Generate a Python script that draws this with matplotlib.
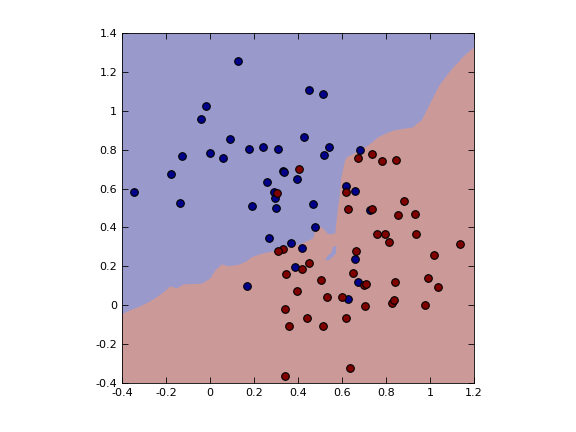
import numpy as np
import matplotlib
matplotlib.use('Agg')
import matplotlib.pyplot as plt
from matplotlib.ticker import FormatStrFormatter

# class 0 (blue) samples
blue_x = [0.125, -0.016, -0.043, 0.093, 0.179, 0.243, 0.311, -0.002, 0.061, -0.129,
          -0.179, 0.334, 0.338, 0.261, 0.397, 0.293, 0.294, -0.347, -0.138, 0.189,
          0.302, 0.452, 0.515, 0.429, 0.543, 0.520, 0.682, 0.620, 0.657, 0.470,
          0.729, 0.475, 0.270, 0.366, 0.416, 0.657, 0.388, 0.674, 0.170, 0.629]
blue_y = [1.256, 1.025, 0.958, 0.856, 0.804, 0.815, 0.804, 0.784, 0.758, 0.768,
          0.676, 0.691, 0.684, 0.635, 0.650, 0.583, 0.553, 0.583, 0.526, 0.511,
          0.501, 1.107, 1.087, 0.866, 0.815, 0.773, 0.799, 0.614, 0.589, 0.522,
          0.491, 0.404, 0.347, 0.321, 0.296, 0.239, 0.198, 0.121, 0.101, 0.034]

# class 1 (red) samples
red_x = [0.303, 0.403, 0.673, 0.738, 0.783, 0.847, 0.620, 0.883, 0.625, 0.738,
         0.856, 0.933, 0.334, 0.311, 0.663, 0.761, 0.797, 0.938, 0.815, 1.138,
         0.452, 0.416, 0.347, 0.652, 0.506, 0.397, 0.534, 0.602, 0.343, 0.443,
         0.620, 0.361, 0.515, 0.638, 0.343, 0.702, 0.711, 0.842, 1.020, 0.992,
         1.038, 0.829, 0.838, 0.706, 0.979]
red_y = [0.578, 0.702, 0.758, 0.779, 0.743, 0.748, 0.583, 0.536, 0.496, 0.496,
         0.465, 0.470, 0.288, 0.279, 0.280, 0.368, 0.368, 0.368, 0.327, 0.315,
         0.219, 0.188, 0.162, 0.167, 0.131, 0.075, 0.044, 0.044, -0.018, -0.064,
         -0.064, -0.105, -0.105, -0.321, -0.362, 0.106, 0.111, 0.121, 0.260, 0.142,
         0.096, 0.013, 0.029, -0.002, 0.003]

# decision boundary (red below, blue above)
bound_x = [-0.4, -0.362, -0.317, -0.272, -0.241, -0.211, -0.181, -0.150, -0.120, -0.037,
           0.001, 0.024, 0.054, 0.084, 0.130, 0.168, 0.190, 0.236, 0.266, 0.319,
           0.364, 0.410, 0.469, 0.482, 0.510, 0.537, 0.569, 0.582, 0.591, 0.596,
           0.614, 0.622, 0.667, 0.720, 0.743, 0.765, 0.796, 0.833, 0.879, 0.924,
           0.940, 0.962, 0.977, 0.992, 1.015, 1.038, 1.053, 1.076, 1.106, 1.129,
           1.151, 1.174, 1.2]
bound_y = [-0.047, -0.026, -0.006, 0.020, 0.042, 0.066, 0.097, 0.087, 0.107, 0.111,
           0.137, 0.179, 0.210, 0.200, 0.208, 0.227, 0.247, 0.265, 0.272, 0.282,
           0.299, 0.313, 0.344, 0.400, 0.400, 0.364, 0.369, 0.503, 0.575, 0.652,
           0.744, 0.761, 0.787, 0.821, 0.843, 0.864, 0.881, 0.898, 0.907, 0.915,
           0.933, 0.950, 0.984, 1.018, 1.069, 1.121, 1.146, 1.181, 1.223, 1.249,
           1.278, 1.300, 1.326]

# small blue island inside the red region
island_x = [0.558, 0.575, 0.572, 0.545, 0.522, 0.535, 0.552]
island_y = [0.300, 0.305, 0.265, 0.235, 0.228, 0.255, 0.270]

blue_bg = '#9999cc'
red_bg = '#cc9999'

fig = plt.figure(figsize=(5.76, 4.32), dpi=100)
ax = fig.add_axes([122/576, 49/432, 352/576, 350/432])
ax.set_facecolor(blue_bg)

ax.fill(bound_x + [1.2, -0.4], bound_y + [-0.4, -0.4], color=red_bg, lw=0)
ax.fill(island_x, island_y, color=blue_bg, lw=0)

ax.scatter(blue_x, blue_y, s=30, c='#00008b', edgecolors='k', linewidths=0.8, zorder=3)
ax.scatter(red_x, red_y, s=30, c='#800000', edgecolors='k', linewidths=0.8, zorder=3)

ax.set_xlim(-0.4, 1.2)
ax.set_ylim(-0.4, 1.4)
ax.set_xticks(np.arange(-0.4, 1.21, 0.2))
ax.set_yticks(np.arange(-0.4, 1.41, 0.2))
ax.xaxis.set_major_formatter(FormatStrFormatter('%g'))
ax.yaxis.set_major_formatter(FormatStrFormatter('%g'))
ax.tick_params(direction='in', top=True, right=True, labelsize=8, length=4, width=0.6)
for sp in ax.spines.values():
    sp.set_linewidth(0.6)

fig.savefig('out.png', dpi=100)
